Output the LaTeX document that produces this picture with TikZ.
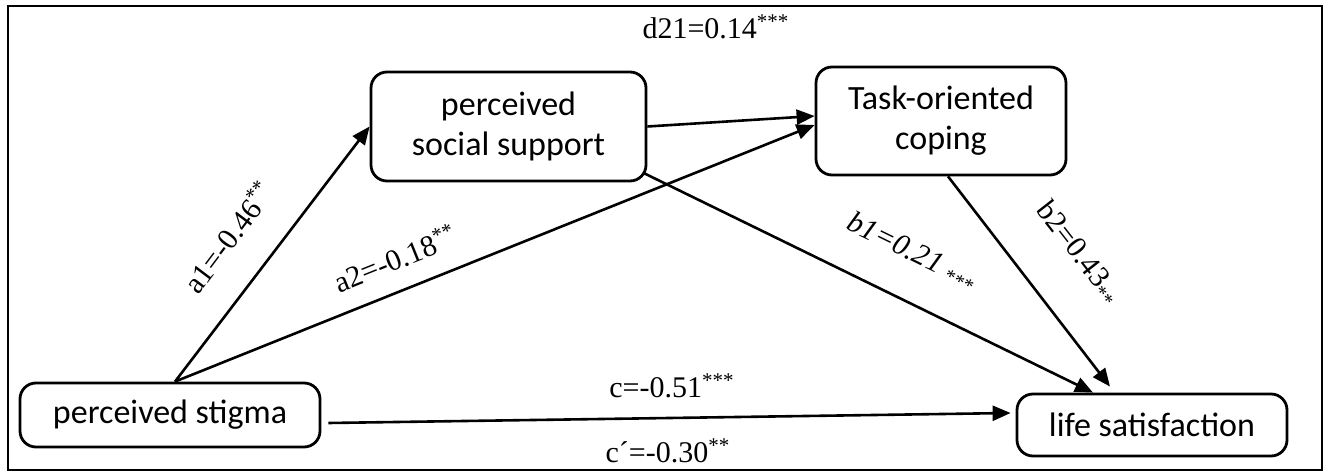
\documentclass[tikz,border=0pt]{standalone}
\usepackage{fontspec}
\setmainfont{Liberation Serif}
\newfontfamily\boxfont{Carlito}
\usetikzlibrary{arrows.meta,positioning}

\begin{document}
\begin{tikzpicture}[x=1pt, y=1pt, node distance=100pt,
  block/.style={rectangle, draw, line width=1.4pt, rounded corners=8pt, align=center, inner sep=0pt, font=\boxfont\fontsize{17}{20}\selectfont},
  line/.style={draw, line width=1.3pt, -{Triangle[length=9pt,width=7.5pt]}},
  lbl/.style={inner sep=0pt, font=\fontsize{15}{18}\selectfont}]

  \useasboundingbox (0,0) rectangle (666,-237.5);
  \draw [line width=1pt] (4,-3) rectangle (661,-235);

  \node [block, minimum width=150pt, minimum height=32pt] (stigma) at (85,-207.5) {perceived stigma};
  \node [block, right of=stigma, node distance=169.25pt, yshift=144.25pt, minimum width=137.5pt, minimum height=54.5pt] (support) {perceived\\social support};
  \node [block, right of=support, node distance=216.25pt, yshift=2.75pt, minimum width=125pt, minimum height=54pt] (task) {Task-oriented\\coping};
  \node [block, right of=stigma, node distance=491pt, yshift=-5pt, minimum width=135pt, minimum height=31pt] (life) {life satisfaction};

  % Paths
  \path [line] ([xshift=2.5pt]stigma.north) -- (support.west);
  \path [line] ([xshift=2.5pt]stigma.north) -- ([yshift=-2pt]task.west);
  \path [line] (support.east) -- ([yshift=2.5pt]task.west);
  \path [line] ([xshift=-1.5pt,yshift=4.5pt]support.south east) -- ([xshift=-29.5pt]life.north);
  \path [line] ([xshift=3.5pt]task.south) -- ([xshift=-21pt,yshift=3pt]life.north);
  \path [line] ([xshift=3.5pt,yshift=-4pt]stigma.east) -- ([xshift=-2.5pt,yshift=6pt]life.west);

  % Coefficients
  \node [lbl] (d21) at (358,-13.5) {d21=0.14\textsuperscript{***}};
  \node [lbl, rotate=53] (a1) at (114,-118.5) {a1=-0.46\textsuperscript{**}};
  \node [lbl, rotate=22] (a2) at (197.5,-129) {a2=-0.18\textsuperscript{**}};
  \node [lbl, rotate=-26] (b1) at (456,-126) {\textit{b1=0.21} \raisebox{-0.3ex}{\fontsize{10}{12}\selectfont***}};
  \node [lbl, rotate=-52] (b2) at (539,-126.5) {b2=0.43\raisebox{-0.4ex}{\fontsize{10}{12}\selectfont**}};
  \node [lbl] (c) at (336,-193) {c=-0.51\textsuperscript{***}};
  \node [lbl] (cp) at (334,-225.5) {c´=-0.30\textsuperscript{**}};
\end{tikzpicture}
\end{document}
